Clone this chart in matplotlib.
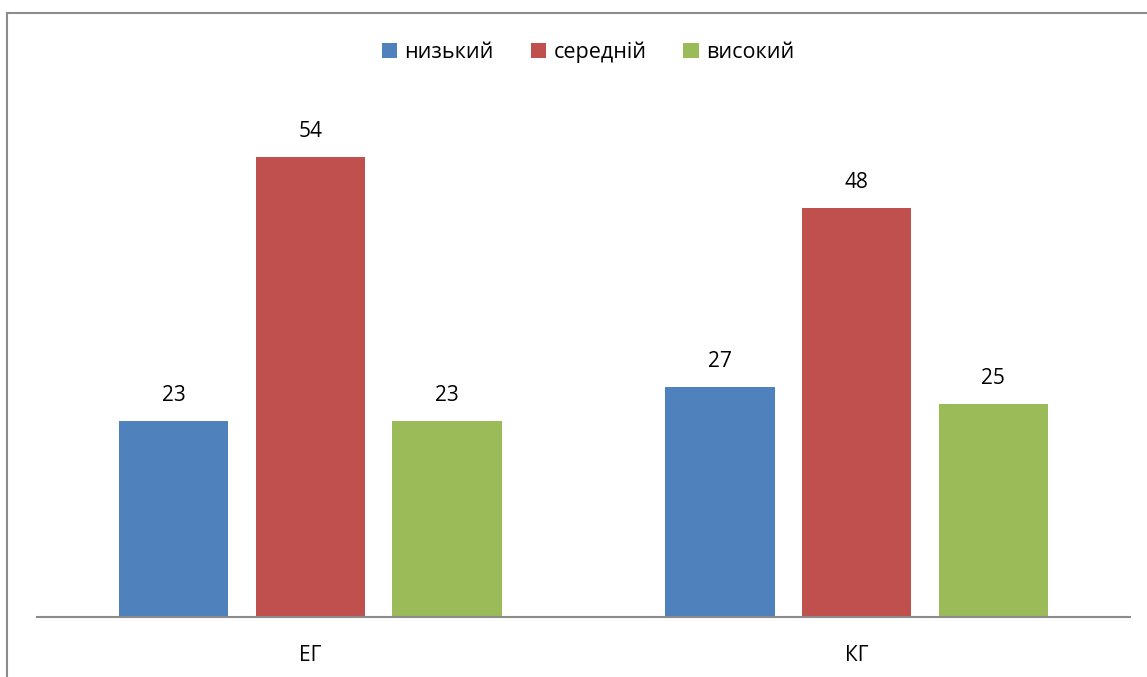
import matplotlib.pyplot as plt
import numpy as np

groups = ["ЕГ", "КГ"]
series = ["низький", "середній", "високий"]
values_low = [23, 27]
values_mid = [54, 48]
values_high = [23, 25]
colors = ["#4f81bd", "#c0504d", "#9bbb59"]

plt.rcParams["font.family"] = ["Open Sans", "DejaVu Sans"]

W, H = 1147, 677
fig = plt.figure(figsize=(W / 100, H / 100), dpi=100)
ax = fig.add_axes([37 / W, (H - 617) / H, (1130 - 37) / W, (617 - 106) / H])

x = np.arange(len(groups))
width = 0.2
step = 0.25
for i, (vals, name) in enumerate(zip([values_low, values_mid, values_high], series)):
    pos = x + (i - 1) * step
    ax.bar(pos, vals, width, color=colors[i], label=name, zorder=2)
    for px, v in zip(pos, vals):
        ax.text(px, v + 1.8, str(v), ha="center", va="bottom", fontsize=15)

ax.set_xlim(-0.5, 1.5)
ax.set_ylim(0, 60)
ax.set_yticks([])
ax.set_xticks(x)
ax.set_xticklabels(groups, fontsize=15)
ax.tick_params(axis="x", length=0, pad=20)
for s in ["top", "right", "left"]:
    ax.spines[s].set_visible(False)
ax.spines["bottom"].set_color("#8c8c8c")
ax.spines["bottom"].set_linewidth(1.5)

fig.legend(loc="center", bbox_to_anchor=(588 / W, 1 - 52 / H), ncol=3,
           frameon=False, fontsize=15.5, handlelength=0.72, handleheight=0.72,
           handletextpad=0.35, columnspacing=1.7)

# chart border (only left and top edges visible in the crop)
fig.add_artist(plt.Line2D([6.5 / W, 6.5 / W], [0, 1 - 12.5 / H], color="#8c8c8c", lw=1.5))
fig.add_artist(plt.Line2D([6.5 / W, 1], [1 - 12.5 / H, 1 - 12.5 / H], color="#8c8c8c", lw=1.5))

fig.savefig("out.png", dpi=100)
